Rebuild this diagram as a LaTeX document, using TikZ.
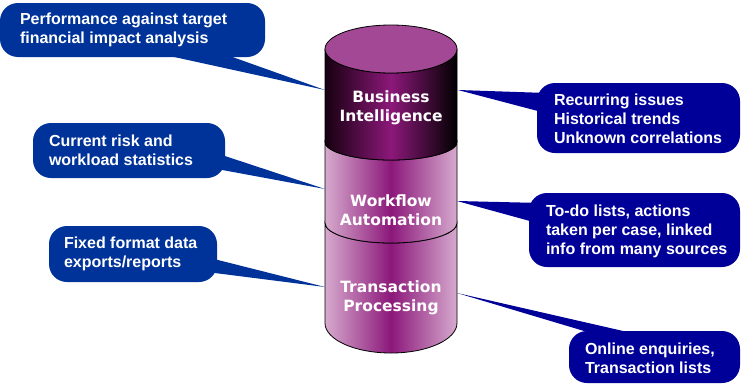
\documentclass[tikz,border=0pt]{standalone}
\usepackage{fontspec}
\newfontfamily\callfont{Liberation Sans}
\newfontfamily\cylfont{DejaVu Sans}
\definecolor{lblue}{RGB}{0,51,153}
\definecolor{rblue}{RGB}{0,0,153}
\definecolor{purp}{RGB}{140,24,122}
\definecolor{lilac}{RGB}{214,170,206}
\definecolor{topc}{RGB}{162,72,148}
\definecolor{darkedge}{RGB}{22,0,16}
\tikzset{
  bubble/.style={rounded corners=18pt, inner sep=0pt},
  lbubble/.style={bubble, fill=lblue},
  rbubble/.style={bubble, fill=rblue},
  calltext/.style={text=white, inner sep=0pt, align=left,
    font=\callfont\bfseries\fontsize{16}{19}\selectfont},
  cyltext/.style={text=white, inner sep=0pt, align=center,
    font=\cylfont\bfseries\fontsize{15.5}{19}\selectfont},
  cylline/.style={draw=black, line width=0.8pt},
  lightshade/.style={left color=lilac, right color=lilac, middle color=purp},
  darkshade/.style={left color=darkedge, right color=black, middle color=purp},
}
\begin{document}
\begin{tikzpicture}[x=1pt,y=-1pt]
\useasboundingbox[fill=white] (0,0) rectangle (741,383);

% tail tips on the cylinder
\coordinate (t1) at (325,90);
\coordinate (t2) at (325,189);
\coordinate (t3) at (325,287);
\coordinate (t4) at (458,90);
\coordinate (t5) at (457,201);
\coordinate (t6) at (457,293);

% callout boxes
\node[lbubble, minimum width=265pt, minimum height=54pt] (b1) at (132.5,30) {};
\node[lbubble, minimum width=192pt, minimum height=55pt] (b2) at (129,150.5) {};
\node[lbubble, minimum width=168pt, minimum height=56pt] (b3) at (133,254) {};
\node[rbubble, minimum width=203pt, minimum height=70pt] (r1) at (638.5,118) {};
\node[rbubble, minimum width=211pt, minimum height=74pt] (r2) at (634.5,230) {};
\node[rbubble, minimum width=171pt, minimum height=52pt] (r3) at (654.5,357) {};

% tails
\fill[lblue] ([xshift=157pt,yshift=4pt]b1.south west) -- (t1) -- ([xshift=222pt,yshift=4pt]b1.south west) -- cycle;
\fill[lblue] ([xshift=-4pt,yshift=-32pt]b2.north east) -- (t2) -- ([xshift=-4pt,yshift=-47pt]b2.north east) -- cycle;
\fill[lblue] ([xshift=-4pt,yshift=-33pt]b3.north east) -- (t3) -- ([xshift=-4pt,yshift=-47pt]b3.north east) -- cycle;
\fill[rblue] ([xshift=4pt,yshift=-10pt]r1.north west) -- (t4) -- ([xshift=4pt,yshift=-29pt]r1.north west) -- cycle;
\fill[rblue] ([xshift=4pt,yshift=-10pt]r2.north west) -- (t5) -- ([xshift=4pt,yshift=-29pt]r2.north west) -- cycle;
\fill[rblue] ([xshift=71pt,yshift=-4pt]r3.north west) -- (t6) -- ([xshift=28pt,yshift=-4pt]r3.north west) -- cycle;

% callout texts
\node[calltext, anchor=west] (b1t) at ([xshift=20pt]b1.west) {Performance against target\\financial impact analysis};
\node[calltext, anchor=west] (b2t) at ([xshift=16pt]b2.west) {Current risk and\\workload statistics};
\node[calltext, anchor=west] (b3t) at ([xshift=15pt]b3.west) {Fixed format data\\exports/reports};
\node[calltext, anchor=west] (r1t) at ([xshift=17pt,yshift=-1pt]r1.west) {Recurring issues\\Historical trends\\Unknown correlations};
\node[calltext, anchor=west] (r2t) at ([xshift=17pt,yshift=-1pt]r2.west) {To-do lists, actions\\taken per case, linked\\info from many sources};
\node[calltext, anchor=west] (r3t) at ([xshift=16pt,yshift=-1pt]r3.west) {Online enquiries,\\Transaction lists};

% cylinder sections
\shade[lightshade]
  (325,223) arc[start angle=180,end angle=0,x radius=66,y radius=20]
  -- (457,323) arc[start angle=0,end angle=180,x radius=66,y radius=30] -- cycle;
\draw[cylline]
  (325,223) arc[start angle=180,end angle=0,x radius=66,y radius=20]
  -- (457,323) arc[start angle=0,end angle=180,x radius=66,y radius=30] -- cycle;
\shade[lightshade]
  (325,142) arc[start angle=180,end angle=0,x radius=66,y radius=18]
  -- (457,223) arc[start angle=0,end angle=180,x radius=66,y radius=20] -- cycle;
\draw[cylline]
  (325,142) arc[start angle=180,end angle=0,x radius=66,y radius=18]
  -- (457,223) arc[start angle=0,end angle=180,x radius=66,y radius=20] -- cycle;
\shade[darkshade]
  (325,49) -- (325,142) arc[start angle=180,end angle=0,x radius=66,y radius=18]
  -- (457,49) arc[start angle=0,end angle=180,x radius=66,y radius=24] -- cycle;
\draw[cylline]
  (325,49) -- (325,142) arc[start angle=180,end angle=0,x radius=66,y radius=18]
  -- (457,49) arc[start angle=0,end angle=180,x radius=66,y radius=24] -- cycle;
\filldraw[fill=topc, cylline] (391,49) ellipse[x radius=66, y radius=24];

% cylinder labels
\node[cyltext] (bi) at (391,108) {Business\\Intelligence};
\node[cyltext] (wa) at (391,210) {Workflow\\Automation};
\node[cyltext] (tp) at (391,297.5) {Transaction\\Processing};
\end{tikzpicture}
\end{document}
